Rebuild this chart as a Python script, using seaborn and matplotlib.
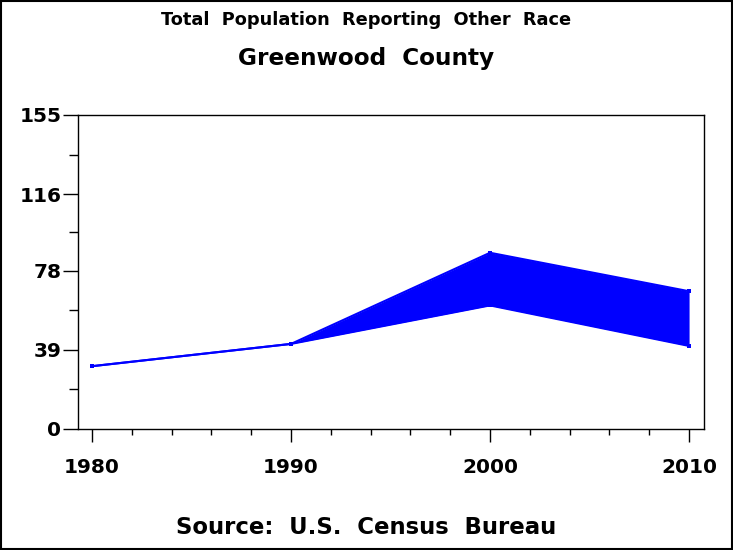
import numpy as np
import pandas as pd
import matplotlib.pyplot as plt
import matplotlib.ticker as mticker
import seaborn as sns

# data
years = [1980, 1990, 2000, 2010]
low_vals = [31, 42, 61, 41]
high_vals = [31, 42, 87, 68]
y_ticks = [0, 39, 78, 116, 155]

df = pd.DataFrame({"Year": years, "Low": low_vals, "High": high_vals})

sns.set_style("white")
plt.rcParams['font.family'] = ['DejaVu Sans']
plt.rcParams['font.weight'] = 'bold'
plt.rcParams['text.color'] = 'black'
plt.rcParams['xtick.color'] = 'black'
plt.rcParams['ytick.color'] = 'black'

fig = plt.figure(figsize=(7.33, 5.5), dpi=100)
ax = fig.add_axes([78 / 733, 121 / 550, 626 / 733, 314 / 550])

ax.fill_between(df.Year, df.Low, df.High, color="#0000ff", lw=0)
sns.lineplot(data=df, x="Year", y="Low", ax=ax, color="#0000ff", lw=1.5,
             marker="s", markersize=3, markeredgewidth=0)
sns.lineplot(data=df, x="Year", y="High", ax=ax, color="#0000ff", lw=1.5,
             marker="s", markersize=3, markeredgewidth=0)

ax.set_xlim(1979.3, 2010.75)
ax.set_ylim(0, 155)
ax.set_xticks(years)
ax.set_yticks(y_ticks)
ax.xaxis.set_minor_locator(mticker.MultipleLocator(2))
ax.yaxis.set_minor_locator(mticker.FixedLocator([19.5, 58.5, 97, 135.5]))
ax.tick_params(which="both", direction="out", width=1, color="black", labelsize=14.5)
ax.tick_params(axis="y", which="major", length=11, pad=1)
ax.tick_params(axis="y", which="minor", length=6.5)
ax.tick_params(axis="x", which="major", length=9, pad=12)
ax.tick_params(axis="x", which="minor", length=4.5)
ax.xaxis.set_tick_params(bottom=True, which="both")
ax.yaxis.set_tick_params(left=True, which="both")
ax.set_xlabel("")
ax.set_ylabel("")
for s in ax.spines.values():
    s.set_color("black")
    s.set_linewidth(1)

fig.text(0.5, 1 - 20 / 550, "Total  Population  Reporting  Other  Race",
         ha="center", va="center", fontsize=12.8)
fig.text(0.5, 1 - 58 / 550, "Greenwood  County",
         ha="center", va="center", fontsize=16.7)
fig.text(0.5, 1 - 528 / 550, "Source:  U.S.  Census  Bureau",
         ha="center", va="center", fontsize=16.4)

# outer border
fig.patches.append(plt.Rectangle((0.001, 0.001), 0.998, 0.998, transform=fig.transFigure,
                                 fill=False, edgecolor="black", lw=1.5))

fig.savefig("out.png", dpi=100)
